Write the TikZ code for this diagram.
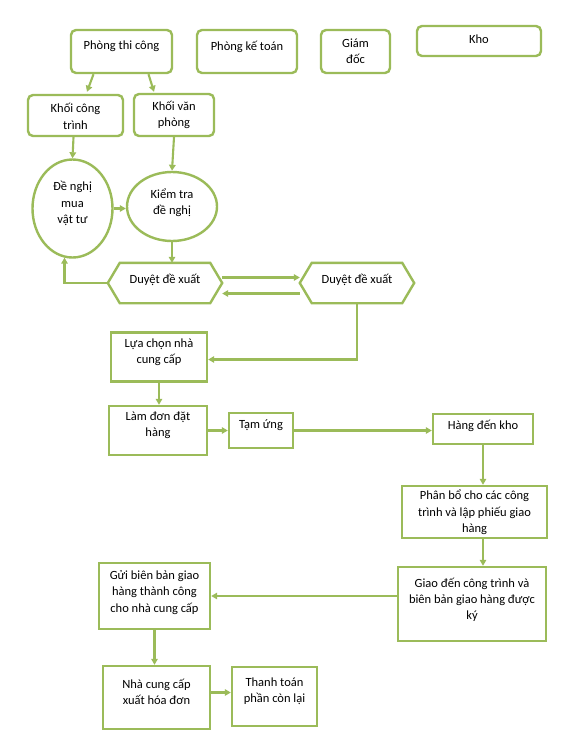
\documentclass[tikz,border=0pt]{standalone}
\usepackage{fontspec}
\setmainfont{Carlito}
\usetikzlibrary{arrows.meta,calc,shapes.geometric}
\definecolor{gr}{HTML}{9BBB59}
\begin{document}
\begin{tikzpicture}[x=1pt,y=-1pt,
  box/.style={draw=gr,line width=2.4pt,rectangle,inner sep=0pt},
  rbox/.style={box,rounded corners=5pt},
  ell/.style={draw=gr,line width=2.4pt,ellipse,inner sep=0pt},
  hexa/.style={rectangle,inner sep=0pt,draw=none},
  txt/.style={font=\fontsize{12.5}{16.3}\selectfont,align=center,inner sep=0pt,text=black},
  arr/.style={draw=gr,line width=2.1pt,-{Triangle[length=6pt,width=6.5pt]}}]
\useasboundingbox[fill=white] (0,0) rectangle (578,750);
% top row
\node[rbox,minimum width=101,minimum height=43] (ptc) at (121.5,51.5) {};
\node[txt] (tptc) at (121.5,46.5) {Phòng thi công};
\node[rbox,minimum width=100,minimum height=43] (pkt) at (247,51.5) {};
\node[txt] (tpkt) at (247,46.5) {Phòng kế toán};
\node[rbox,minimum width=69,minimum height=43] (gd) at (355.5,51.5) {};
\node[txt] (tgd) at (355.5,51.5) {Giám\\đốc};
\node[rbox,minimum width=124,minimum height=30] (kho) at (479,41) {};
\node[txt] (tkho) at (479,39.5) {Kho};
% second row
\node[rbox,minimum width=95,minimum height=41] (kct) at (75.5,115.5) {};
\node[txt] (tkct) at (75.5,116.5) {Khối công\\trình};
\node[rbox,minimum width=80,minimum height=42] (kvp) at (174,115) {};
\node[txt] (tkvp) at (174,115) {Khối văn\\phòng};
% ellipses
\node[ell,minimum width=80,minimum height=98] (e1) at (72.5,208.5) {};
\node[txt] (te1) at (72.5,203.5) {Đề nghị\\mua\\vật tư};
\node[ell,minimum width=90,minimum height=69] (e2) at (172,206.5) {};
\node[txt] (te2) at (172,203) {Kiểm tra\\đề nghị};
% hexagons
\node[hexa,minimum width=114,minimum height=40] (h1) at (165,283) {};
\node[hexa,minimum width=114,minimum height=40] (h2) at (357,283) {};
\foreach \h in {h1,h2}{
  \draw[draw=gr,line width=2.4pt] (\h.west) -- ([xshift=12]\h.north west) -- ([xshift=-12]\h.north east) -- (\h.east) -- ([xshift=-12]\h.south east) -- ([xshift=12]\h.south west) -- cycle;
}
\node[txt] (th1) at (165,279.5) {Duyệt đề xuất};
\node[txt] (th2) at (357,279.5) {Duyệt đề xuất};
% process boxes
\node[box,minimum width=96,minimum height=49] (lc) at (159,357) {};
\node[txt] (tlc) at (159,352.5) {Lựa chọn nhà\\cung cấp};
\node[box,minimum width=98,minimum height=49] (ld) at (158,430.5) {};
\node[txt] (tld) at (158,425.5) {Làm đơn đặt\\hàng};
\node[box,minimum width=64,minimum height=35] (tu) at (261,430.5) {};
\node[txt] (ttu) at (261,425.5) {Tạm ứng};
\node[box,minimum width=100,minimum height=30] (hk) at (483,429) {};
\node[txt] (thk) at (483,425.5) {Hàng đến kho};
\node[box,minimum width=145,minimum height=52] (pb) at (474.5,512) {};
\node[txt] (tpb) at (474.5,512.5) {Phân bổ cho các công\\trình và lập phiếu giao\\hàng};
\node[box,minimum width=148,minimum height=74] (gdc) at (472,604) {};
\node[txt] (tgdc) at (472,600) {Giao đến công trình và\\biên bản giao hàng được\\ký};
\node[box,minimum width=111,minimum height=66] (gbb) at (154.5,596) {};
\node[txt] (tgbb) at (154.5,592.5) {Gửi biên bản giao\\hàng thành công\\cho nhà cung cấp};
\node[box,minimum width=107,minimum height=63] (ncc) at (156.5,697.5) {};
\node[txt] (tncc) at (156.5,692) {Nhà cung cấp\\xuất hóa đơn};
\node[box,minimum width=85,minimum height=59] (tt) at (274.5,696.5) {};
\node[txt] (ttt) at (274.5,691.5) {Thanh toán\\phần còn lại};
% connectors
\draw[arr] ([xshift=-28]ptc.south) -- ([xshift=11.5,yshift=2]kct.north);
\draw[arr] ([xshift=27]ptc.south) -- ([xshift=-20,yshift=1]kvp.north);
\draw[arr] ([xshift=-2]kct.south) -- (e1.north);
\draw[arr] (kvp.south) -- (e2.north);
\draw[arr] (e1.east) -- (e1.east -| e2.west);
\draw[arr] (e2.south) -- (e2.south |- h1.north);
\draw[arr] (h1.west) -| ([xshift=-8,yshift=1]e1.south);
\draw[arr] ([yshift=5.5]h1.east) -- ([yshift=5.5]h2.west);
\draw[arr] ([yshift=-10.5]h2.west) -- ([yshift=-10.5]h1.east);
\draw[arr] (h2.south) |- ([yshift=-2.5]lc.east);
\draw[arr] (lc.south) -- (lc.south |- ld.north);
\draw[arr] (ld.east) -- (ld.east -| tu.west);
\draw[arr] (tu.east) -- (tu.east -| hk.west);
\draw[arr] (hk.south) -- (hk.south |- pb.north);
\draw[arr] (hk.south |- pb.south) -- (hk.south |- gdc.north);
\draw[arr] ([yshift=8]gdc.west) -- ([yshift=8]gdc.west -| gbb.east);
\draw[arr] (gbb.south) -- (gbb.south |- ncc.north);
\draw[arr] ([yshift=5]ncc.east) -- ([yshift=5]ncc.east -| tt.west);
\end{tikzpicture}
\end{document}
